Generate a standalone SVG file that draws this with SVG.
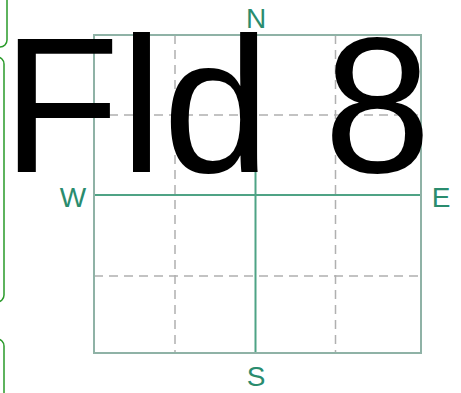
<svg xmlns="http://www.w3.org/2000/svg" width="461" height="393" viewBox="0 0 461 393">
<style>
.box{fill:none;stroke:#2a9a2a;stroke-width:1.5}
.border{fill:none;stroke:#8fb2a6;stroke-width:2}
.axis{stroke:#4fa385;stroke-width:2}
.dash{stroke:#b0b0b0;stroke-width:1.5;stroke-dasharray:9,6}
.lbl{font-family:"Liberation Sans",Arial,sans-serif;font-size:28px;fill:#2a8c6e}
.big{font-family:"Liberation Sans",Arial,sans-serif;font-size:193px;fill:#000}
</style>
<rect width="461" height="393" fill="#fff"/>
<g id="side-boxes">
<rect class="box" x="-20" y="-20" width="27" height="67" rx="7"/>
<rect class="box" x="-20" y="57" width="24" height="245" rx="7"/>
<rect class="box" x="-20" y="339" width="24" height="80" rx="7"/>
</g>
<g id="grid">
<line class="dash" x1="175" y1="35" x2="175" y2="353"/>
<line class="dash" x1="335.5" y1="35" x2="335.5" y2="353"/>
<line class="dash" x1="94" y1="115" x2="421" y2="115"/>
<line class="dash" x1="94" y1="276" x2="421" y2="276"/>
<line class="axis" x1="255.5" y1="35" x2="255.5" y2="353"/>
<line class="axis" x1="94" y1="195" x2="421" y2="195"/>
<rect class="border" x="94" y="35" width="327" height="318"/>
</g>
<g id="labels">
<text class="lbl" x="256" y="28" text-anchor="middle">N</text>
<text class="lbl" x="73" y="207" text-anchor="middle">W</text>
<text class="lbl" x="441" y="207" text-anchor="middle">E</text>
<text class="lbl" x="256" y="386" text-anchor="middle">S</text>
</g>
<g id="title">
<text class="big" x="2" y="172">Fld 8</text>
</g>
</svg>
